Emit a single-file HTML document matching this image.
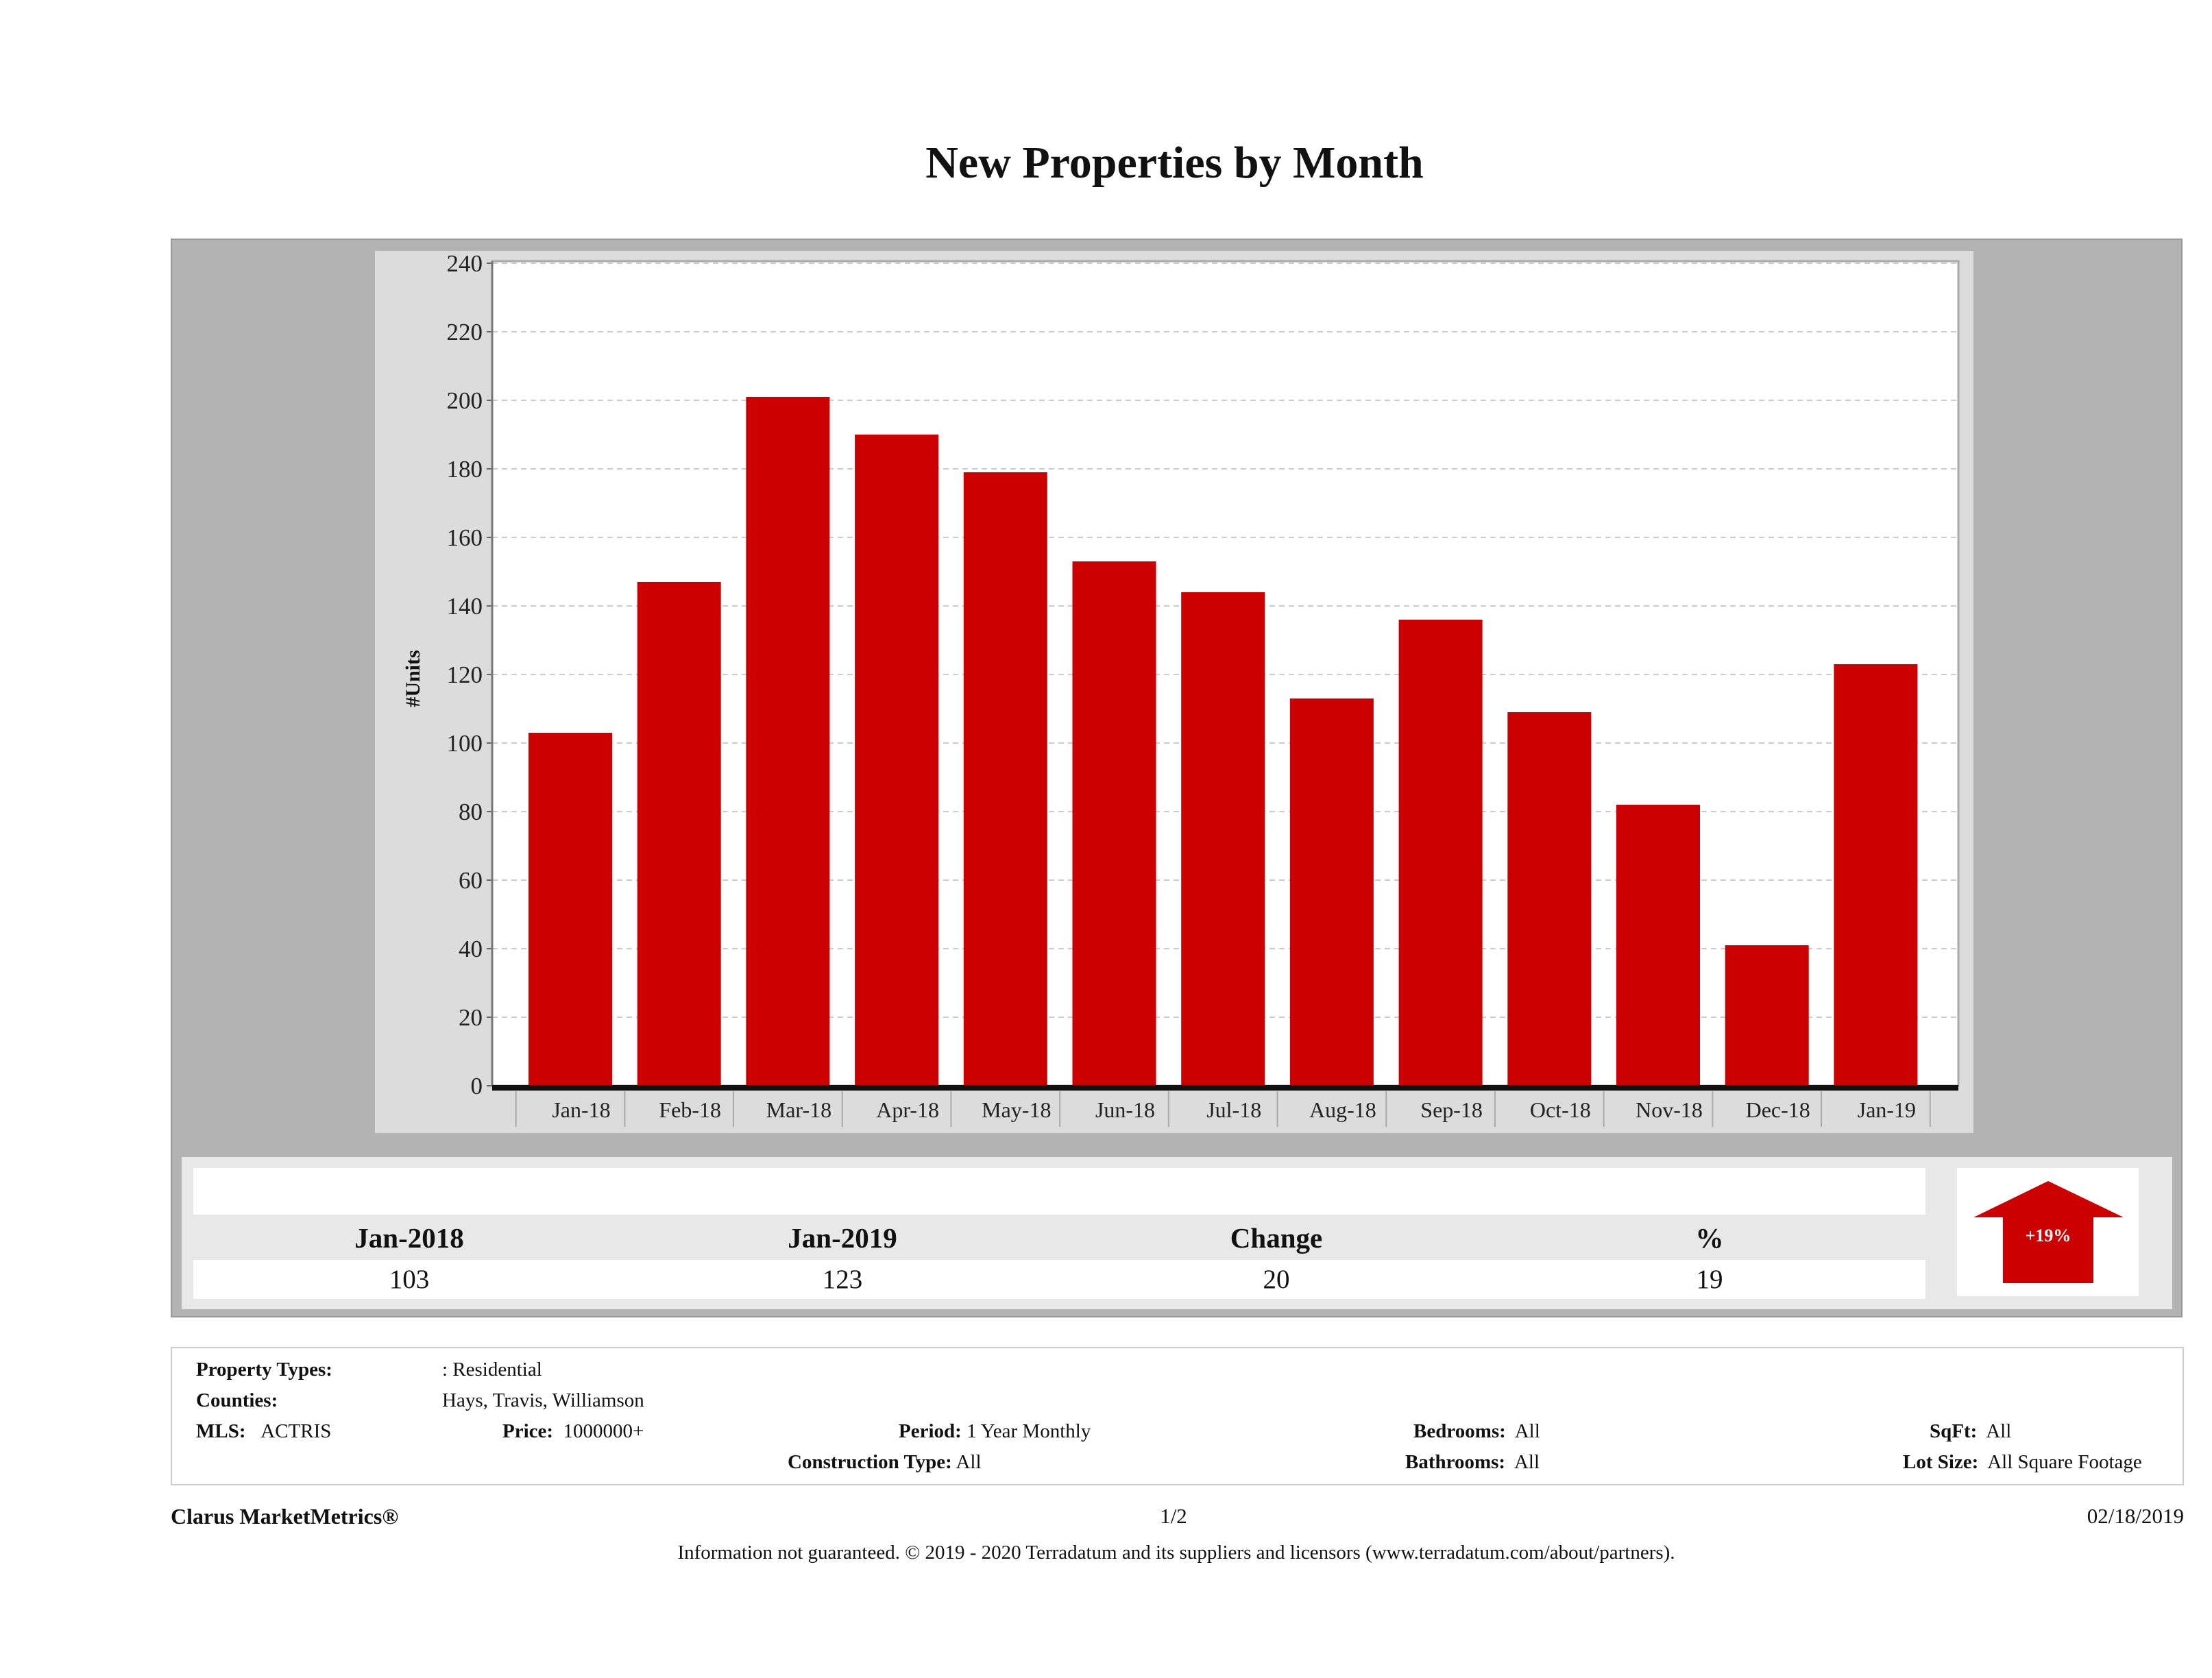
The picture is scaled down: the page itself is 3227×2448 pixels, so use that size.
<!DOCTYPE html>
<html><head><meta charset="utf-8"><style>
body{margin:0;width:3227px;height:2448px;background:#fff;position:relative;overflow:hidden;font-family:"Liberation Serif",serif;color:#111}
.a{position:absolute}
.t{position:absolute;white-space:nowrap;font-size:29px}
.b{font-weight:bold}
</style></head><body>
<div class="a b" style="left:0;width:3427px;top:200px;text-align:center;font-size:66px">New Properties by Month</div>
<div class="a" style="left:249px;top:348px;width:2935px;height:1574px;background:#b3b3b3;border:2px solid #999;box-sizing:border-box"></div>
<div class="a" style="left:547px;top:366px;width:2332px;height:1287px;background:#dcdcdc"></div>
<svg class="a" style="left:0;top:0" width="3227" height="1700" id="chart"></svg>
<div class="a" style="left:265px;top:1688px;width:2904px;height:222px;background:#e8e8e8"></div>
<div class="a" style="left:282px;top:1704px;width:2527px;height:68px;background:#fff"></div>
<div class="a" style="left:282px;top:1838px;width:2527px;height:57px;background:#fff"></div>
<div class="t b" style="left:597px;top:1782px;transform:translateX(-50%);font-size:41px">Jan-2018</div>
<div class="t b" style="left:1229px;top:1782px;transform:translateX(-50%);font-size:41px">Jan-2019</div>
<div class="t b" style="left:1862px;top:1782px;transform:translateX(-50%);font-size:41px">Change</div>
<div class="t b" style="left:2494px;top:1782px;transform:translateX(-50%);font-size:41px">%</div>
<div class="t" style="left:597px;top:1844px;transform:translateX(-50%);font-size:39px">103</div>
<div class="t" style="left:1229px;top:1844px;transform:translateX(-50%);font-size:39px">123</div>
<div class="t" style="left:1862px;top:1844px;transform:translateX(-50%);font-size:39px">20</div>
<div class="t" style="left:2494px;top:1844px;transform:translateX(-50%);font-size:39px">19</div>
<div class="a" style="left:2855px;top:1704px;width:265px;height:187px;background:#fff"></div>
<svg class="a" style="left:0;top:0" width="3227" height="1950">
<polygon points="2988,1723 3098,1776 3054,1776 3054,1872 2922,1872 2922,1776 2879,1776" fill="#cc0000"/>
<text x="2988" y="1811" text-anchor="middle" fill="#fff" font-size="26" font-weight="bold" font-family="Liberation Serif, serif">+19%</text>
</svg>
<div class="a" style="left:249px;top:1965px;width:2937px;height:202px;border:2px solid #ccc;box-sizing:border-box"></div>
<div class="t b" style="left:286px;top:1982px">Property Types:</div>
<div class="t" style="left:645px;top:1982px">: Residential</div>
<div class="t b" style="left:286px;top:2027px">Counties:</div>
<div class="t" style="left:645px;top:2027px">Hays, Travis, Williamson</div>
<div class="t" style="left:286px;top:2072px"><b>MLS:</b>&nbsp;&nbsp;&nbsp;ACTRIS</div>
<div class="t" style="left:733px;top:2072px"><b>Price:</b>&nbsp; 1000000+</div>
<div class="t" style="left:1311px;top:2072px"><b>Period:</b> 1 Year Monthly</div>
<div class="t" style="left:1149px;top:2117px"><b>Construction Type:</b> All</div>
<div class="t" style="left:2062px;top:2072px"><b>Bedrooms:</b>&nbsp; All</div>
<div class="t" style="left:2050px;top:2117px"><b>Bathrooms:</b>&nbsp; All</div>
<div class="t" style="left:2815px;top:2072px"><b>SqFt:</b>&nbsp; All</div>
<div class="t" style="left:2776px;top:2117px"><b>Lot Size:</b>&nbsp; All Square Footage</div>
<div class="t b" style="left:249px;top:2194px;font-size:32px">Clarus MarketMetrics®</div>
<div class="t" style="left:1712px;top:2194px;transform:translateX(-50%);font-size:31px">1/2</div>
<div class="t" style="left:3186px;top:2194px;transform:translateX(-100%);font-size:31px">02/18/2019</div>
<div class="t" style="left:1716px;top:2249px;transform:translateX(-50%);font-size:29px">Information not guaranteed. © 2019 - 2020 Terradatum and its suppliers and licensors (www.terradatum.com/about/partners).</div>
<script>
const categories=["Jan-18","Feb-18","Mar-18","Apr-18","May-18","Jun-18","Jul-18","Aug-18","Sep-18","Oct-18","Nov-18","Dec-18","Jan-19"];
const units=[103,147,201,190,179,153,144,113,136,109,82,41,123];
const yTicks=[0,20,40,60,80,100,120,140,160,180,200,220,240];
const NS="http://www.w3.org/2000/svg";
const svg=document.getElementById('chart');
const L=718,R=2857,T=381,B=1584,yMax=240;
const y=v=>B-(v/yMax)*(B-384);
const step=158.7,x0=832,bw=122;
const x=i=>x0+i*step;
function mk(t,a){const e=document.createElementNS(NS,t);for(const k in a)e.setAttribute(k,a[k]);svg.appendChild(e);return e;}
const bg=mk('rect',{x:L,y:T,width:R-L,height:B-T,fill:'#fff',stroke:'#aaa','stroke-width':3});


yTicks.forEach(v=>{
  const g=mk('line',{x1:L,x2:R,y1:y(v),y2:y(v),stroke:'#ccc','stroke-width':2,'stroke-dasharray':'8 6'});
  
  
  mk('line',{x1:L-8,x2:L,y1:y(v),y2:y(v),stroke:'#666','stroke-width':2});
  const t=mk('text',{x:L-14,y:y(v)+12,'text-anchor':'end','font-size':35,'font-family':'Liberation Serif, serif',fill:'#222'});
  t.textContent=v;
  
  
});
mk('line',{x1:L,x2:L,y1:T,y2:B,stroke:'#777','stroke-width':3});
units.forEach((v,i)=>{
  const r=mk('rect',{x:x(i)-bw/2,y:y(v),width:bw,height:B-y(v),fill:'#cc0000'});
  
  
});
mk('line',{x1:L,x2:R,y1:B+3,y2:B+3,stroke:'#111','stroke-width':8});
categories.forEach((c,i)=>{
  const xb=x(i)-step/2;
  mk('line',{x1:xb,x2:xb,y1:B+8,y2:B+60,stroke:'#aaa','stroke-width':2});
  if(i===categories.length-1) mk('line',{x1:xb+step,x2:xb+step,y1:B+8,y2:B+60,stroke:'#aaa','stroke-width':2});
  const t=mk('text',{x:x(i)+16,y:B+46,'text-anchor':'middle','font-size':32,'font-family':'Liberation Serif, serif',fill:'#222'});
  t.textContent=c;
  
  
});
const yt=mk('text',{x:0,y:0,'text-anchor':'middle','font-size':30,'font-weight':'bold','font-family':'Liberation Serif, serif',fill:'#111',transform:'translate(612,990) rotate(-90)'});
yt.textContent='#Units';


</script>
</body></html>
